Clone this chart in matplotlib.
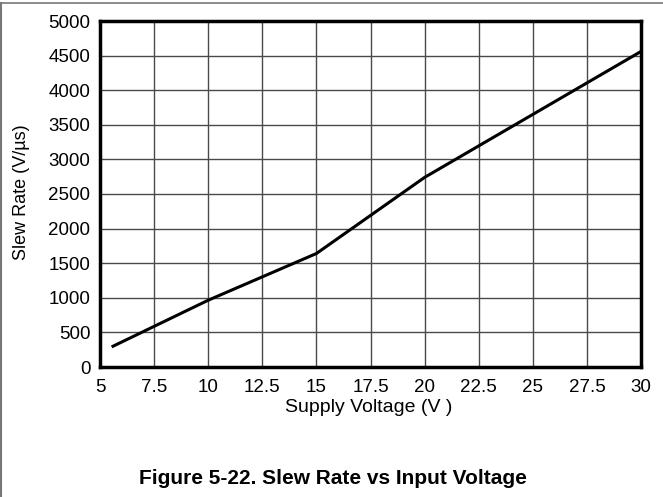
import numpy as np
import matplotlib
matplotlib.use("Agg")
import matplotlib.pyplot as plt
from matplotlib.lines import Line2D

plt.rcParams['font.family'] = ['Liberation Sans', 'DejaVu Sans']

# slew rate
supply_v = [5.6, 10, 15, 20, 25, 30]
slew_rate = [300, 965, 1640, 2740, 3650, 4560]

x_ticks = [5, 7.5, 10, 12.5, 15, 17.5, 20, 22.5, 25, 27.5, 30]
x_labels = ["5", "7.5", "10", "12.5", "15", "17.5", "20", "22.5", "25", "27.5", "30"]
y_ticks = [0, 500, 1000, 1500, 2000, 2500, 3000, 3500, 4000, 4500, 5000]

fig = plt.figure(figsize=(6.63, 4.97), dpi=100)
W, H = 663, 497
ax = fig.add_axes([100 / W, 1 - 367 / H, (641 - 100) / W, (367 - 21) / H])

ax.plot(supply_v, slew_rate, color="black", lw=2.2, zorder=3)

ax.set_xlim(5, 30)
ax.set_ylim(0, 5000)
ax.set_xticks(x_ticks)
ax.set_xticklabels(x_labels)
ax.set_yticks(y_ticks)
ax.tick_params(length=0, labelsize=13.5)
ax.tick_params(axis="y", pad=7)
ax.tick_params(axis="x", pad=9)
ax.grid(True, color="#4a4a4a", lw=1.0)
for s in ax.spines.values():
    s.set_linewidth(2.5)
    s.set_color("black")

fig.text(369 / W, 1 - 408 / H, "Supply Voltage (V )", ha="center", va="center", fontsize=14)
fig.text(22 / W, 1 - 192 / H, "Slew Rate (V/\u00b5s)", ha="center", va="center",
         rotation=90, fontsize=13)
fig.text(333 / W, 1 - 478 / H, "Figure 5-22. Slew Rate vs Input Voltage",
         ha="center", va="center", fontsize=15, fontweight="bold")

# page frame lines
fig.add_artist(Line2D([0, 1], [1 - 3 / H, 1 - 3 / H], color="#777777", lw=1.2,
                      transform=fig.transFigure))
fig.add_artist(Line2D([0.6 / W, 0.6 / W], [0, 1 - 3 / H], color="#777777", lw=1.5,
                      transform=fig.transFigure))

fig.savefig("out.png", dpi=100)
